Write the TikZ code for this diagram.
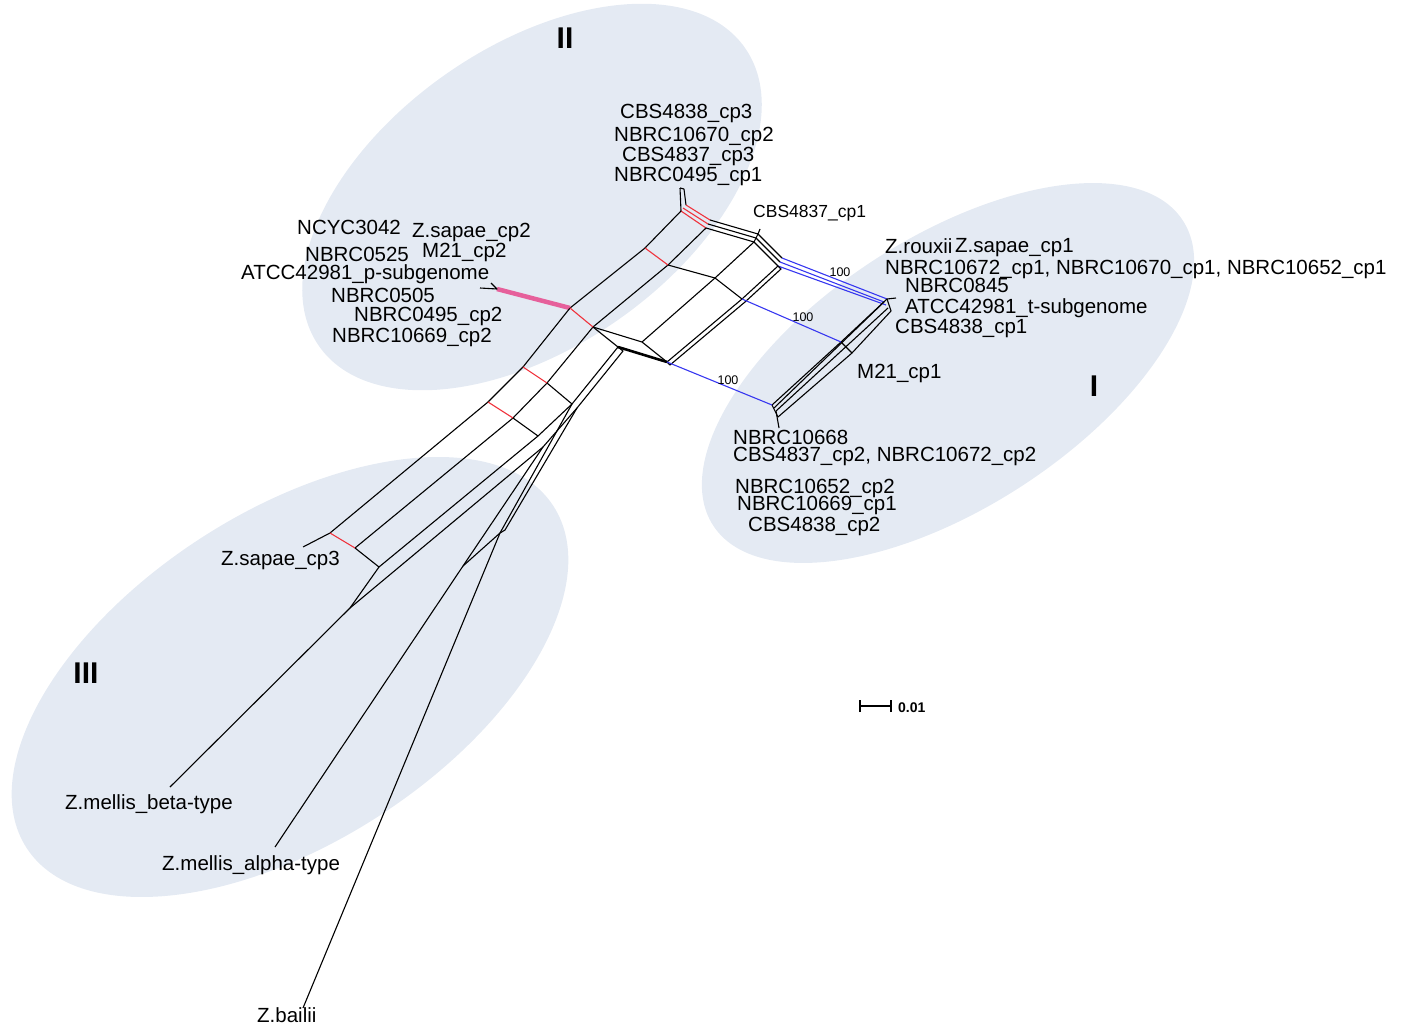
\documentclass[tikz,border=0pt]{standalone}
\usepackage{fontspec}
\setmainfont{Liberation Sans}
\definecolor{ellfill}{RGB}{228,234,243}
\definecolor{netred}{RGB}{240,50,60}
\definecolor{netblue}{RGB}{55,55,240}
\definecolor{netpink}{RGB}{230,96,155}
\begin{document}
\begin{tikzpicture}[x=1pt,y=-1pt,
  lbl/.style={font=\fontsize{20.5}{24}\selectfont, inner sep=0pt, text height=14.7pt, text depth=0pt, anchor=west},
  slbl/.style={font=\fontsize{17.5}{20}\selectfont, inner sep=0pt, text height=12.5pt, text depth=0pt, anchor=west},
  bootlbl/.style={font=\fontsize{12.5}{14}\selectfont, inner sep=0pt, text height=9pt, text depth=0pt},
  grp/.style={font=\bfseries\fontsize{30}{34}\selectfont, inner sep=0pt, text height=21.5pt, text depth=0pt},
  net/.style={line width=1.1pt, draw=black, line join=round},
  rsplit/.style={line width=1.1pt, draw=netred},
  bsplit/.style={line width=1.1pt, draw=netblue},
  ell/.style={fill=ellfill, draw=none}]
\useasboundingbox (0,0) rectangle (1403,1025);
% group ellipses
\fill[ell, shift={(532,197)}, rotate=35] (0,0) ellipse [x radius=260, y radius=150];
\fill[ell, shift={(948,373)}, rotate=33] (0,0) ellipse [x radius=280, y radius=135];
\fill[ell, shift={(290,677)}, rotate=33] (0,0) ellipse [x radius=314, y radius=165];
\node[grp] (gII) at (565,38) {II};
\node[grp] (gI) at (1094,386) {I};
\node[grp] (gIII) at (86,673) {III};
% ---------- coordinates ----------
\coordinate (tp1) at (680,188); \coordinate (tp2) at (684,189);
\coordinate (a1) at (681,211); \coordinate (a2) at (683,208); \coordinate (a3) at (686,205);
\coordinate (b1) at (706,228); \coordinate (b2) at (708,224); \coordinate (b3) at (710,220);
\coordinate (c1) at (754,242); \coordinate (c2) at (756,238); \coordinate (c3) at (758,234);
\coordinate (cp1) at (760,229);
\coordinate (d1) at (778,266); \coordinate (d2) at (780,262); \coordinate (d3) at (782,258);
\coordinate (d1b) at (781,269);
\coordinate (e1) at (884,302); \coordinate (e2) at (886,305); \coordinate (e3) at (887,299);
\coordinate (r3s) at (888,308); \coordinate (r4s) at (891,311);
\coordinate (B2) at (841,342); \coordinate (r1e) at (772,405);
\coordinate (r2e) at (774,408); \coordinate (r3e) at (776,411);
\coordinate (r4m) at (852,353); \coordinate (r4e) at (778,417);
\coordinate (tsub) at (896,298); \coordinate (n668) at (779,428);
\coordinate (P0) at (570,308); \coordinate (P1) at (593,327);
\coordinate (L1a) at (645,248); \coordinate (L2a) at (668,265);
\coordinate (X1) at (715,278); \coordinate (X2) at (742,299); \coordinate (X2b) at (745,302);
\coordinate (D1) at (642,342); \coordinate (S) at (618,347);
\coordinate (D2) at (667,362); \coordinate (D2b) at (670,365);
\coordinate (pk) at (497,289); \coordinate (pk1) at (480,288); \coordinate (pk2) at (491,283);
\coordinate (L1b) at (523,367); \coordinate (L1c) at (488,402); \coordinate (L1d) at (330,533);
\coordinate (sap3) at (303,547);
\coordinate (L2b) at (547,383); \coordinate (L2c) at (513,418); \coordinate (L2d) at (355,548);
\coordinate (L3b) at (572,404); \coordinate (L3c) at (538,436); \coordinate (L3d) at (379,567);
\coordinate (T) at (350,608); \coordinate (beta) at (170,787);
\coordinate (S4) at (623,351); \coordinate (L4b) at (577,408); \coordinate (L4c) at (543,447);
\coordinate (K) at (463,566); \coordinate (alpha) at (275,847);
\coordinate (Bx) at (500,533); \coordinate (Bx2) at (505,530); \coordinate (bailii) at (303,1008);
% ---------- upper network ----------
\draw[net] (tp1) -- (a1);
\draw[net] (tp2) -- (a3);
\draw[net] (tp1) -- (tp2);
\draw[rsplit] (a1) -- (b1);
\draw[rsplit] (a2) -- (b2);
\draw[rsplit] (a3) -- (b3);
\draw[net] (b3) -- (c3) -- (cp1);
\draw[net] (b2) -- (c2);
\draw[net] (b1) -- (c1);
\draw[net] (c3) -- (c1);
\draw[net] (c3) -- (d3);
\draw[net] (c2) -- (d2);
\draw[net] (c1) -- (d1);
\draw[bsplit] (d3) -- (e3);
\draw[bsplit] (d2) -- (e1);
\draw[bsplit] (d1) -- (e2);
\node[bootlbl] (bs1) at (840,272) {100};
% right bundle
\draw[net] (e3) -- (B2) -- (r1e);
\draw[net] (e1) -- (r2e);
\draw[net] (r3s) -- (r3e);
\draw[net] (r4s) -- (r4m) -- (r4e);
\draw[net] (e3) -- (r4s);
\draw[net] (B2) -- (r4m);
\draw[net] (r1e) -- (r4e);
\draw[net] (e3) -- (tsub);
\draw[net] (r3e) -- (n668);
% central lattice
\draw[net] (P0) -- (L1a) -- (a1);
\draw[net] (P1) -- (L2a) -- (b1);
\draw[rsplit] (L1a) -- (L2a);
\draw[net] (L2a) -- (X1) -- (X2);
\draw[net] (X1) -- (c1);
\draw[net] (X1) -- (D1);
\draw[net] (P1) -- (D1) -- (D2);
\draw[net] (P1) -- (S);
\draw[net, line width=2.6pt] (S) -- (D2);
\draw[net] (D2) -- (X2) -- (d1);
\draw[net] (D2b) -- (X2b) -- (d1b) -- (d1);
\draw[net] (D2) -- (D2b);
\draw[bsplit] (X2) -- (B2);
\node[bootlbl] (bs2) at (803,317) {100};
\draw[bsplit] (D2) -- (r1e);
\node[bootlbl] (bs3) at (728,380) {100};
% p-subgenome pendant
\draw[line width=4.5pt, draw=netpink] (P0) -- (pk);
\draw[net] (pk1) -- (pk) -- (pk2);
% lower lattice
\draw[net] (P0) -- (L1b) -- (L1c) -- (L1d) -- (sap3);
\draw[net] (P1) -- (L2b) -- (L2c) -- (L2d);
\draw[net] (S) -- (L3b) -- (L3c) -- (L3d) -- (T);
\draw[rsplit] (P0) -- (P1);
\draw[rsplit] (L1b) -- (L2b);
\draw[rsplit] (L1c) -- (L2c);
\draw[rsplit] (L1d) -- (L2d);
\draw[net] (L2b) -- (L3b);
\draw[net] (L2c) -- (L3c);
\draw[net] (L2d) -- (L3d);
\draw[net] (S) -- (S4) -- (L4b) -- (L4c) -- (T) -- (beta);
\draw[net] (L4c) -- (K) -- (alpha);
\draw[net] (L3b) -- (Bx) -- (bailii);
\draw[net] (L4b) -- (Bx2) -- (Bx);
\draw[net] (Bx) -- (K);
% ---------- labels ----------
\node[lbl] (t1) at (620,111) {CBS4838\_cp3};
\node[lbl] (t2) at (614,134) {NBRC10670\_cp2};
\node[lbl] (t3) at (622,154) {CBS4837\_cp3};
\node[lbl] (t4) at (614,174) {NBRC0495\_cp1};
\node[slbl] (t5) at (753,211) {CBS4837\_cp1};
\node[lbl] (t6) at (885,246) {Z.rouxii};
\node[lbl] (t7) at (955,245) {Z.sapae\_cp1};
\node[lbl] (t8) at (885,267) {NBRC10672\_cp1, NBRC10670\_cp1, NBRC10652\_cp1};
\node[lbl] (t9) at (905,285) {NBRC0845};
\node[lbl] (t10) at (905,306) {ATCC42981\_t-subgenome};
\node[lbl] (t11) at (895,326) {CBS4838\_cp1};
\node[lbl] (t12) at (857,371) {M21\_cp1};
\node[lbl] (t13) at (733,437) {NBRC10668};
\node[lbl] (t14) at (733,454) {CBS4837\_cp2, NBRC10672\_cp2};
\node[lbl] (t15) at (735,486) {NBRC10652\_cp2};
\node[lbl] (t16) at (737,503) {NBRC10669\_cp1};
\node[lbl] (t17) at (748,524) {CBS4838\_cp2};
\node[lbl] (t18) at (297,227) {NCYC3042};
\node[lbl] (t19) at (412,230) {Z.sapae\_cp2};
\node[lbl] (t20) at (422,250) {M21\_cp2};
\node[lbl] (t21) at (305,254) {NBRC0525};
\node[lbl] (t22) at (241,272) {ATCC42981\_p-subgenome};
\node[lbl] (t23) at (331,295) {NBRC0505};
\node[lbl] (t24) at (354,314) {NBRC0495\_cp2};
\node[lbl] (t25) at (332,335) {NBRC10669\_cp2};
\node[lbl] (t26) at (221,558) {Z.sapae\_cp3};
\node[lbl] (t27) at (65,802) {Z.mellis\_beta-type};
\node[lbl] (t28) at (162,863) {Z.mellis\_alpha-type};
\node[lbl] (t29) at (257,1015) {Z.bailii};
% scale bar
\coordinate (sb1) at (860,706); \coordinate (sb2) at (891,706);
\draw[net] (sb1) -- (sb2);
\draw[net] ([yshift=-6]sb1) -- ([yshift=6]sb1);
\draw[net] ([yshift=-6]sb2) -- ([yshift=6]sb2);
\node[font=\bfseries\fontsize{14}{16}\selectfont, inner sep=0pt, text height=10pt, text depth=0pt, anchor=west] (sbl) at (898,707) {0.01};
\end{tikzpicture}
\end{document}
